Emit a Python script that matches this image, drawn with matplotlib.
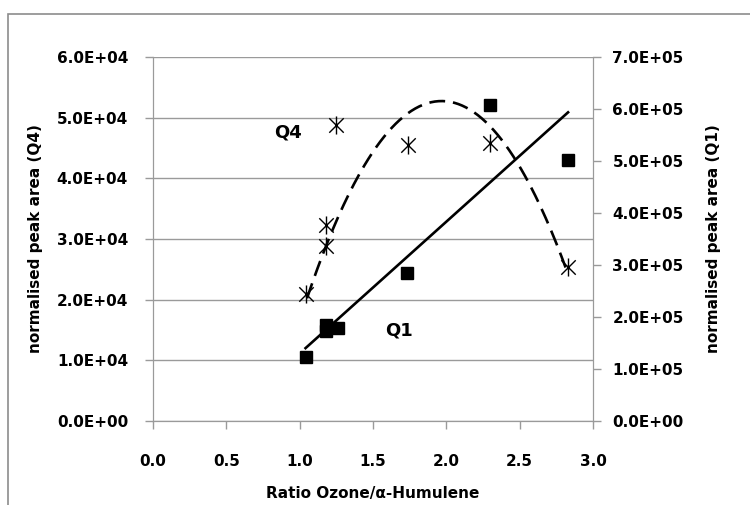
import numpy as np
import matplotlib
matplotlib.use("Agg")
import matplotlib.pyplot as plt
from matplotlib.patches import Rectangle
from matplotlib.path import Path

plt.rcParams['font.family'] = ['DejaVu Sans']
plt.rcParams['font.weight'] = 'bold'

# data
ratio = [1.04, 1.18, 1.18, 1.25, 1.74, 2.30, 2.83]
q4_area = [2.10e4, 3.23e4, 2.89e4, 4.88e4, 4.55e4, 4.58e4, 2.54e4]
ratio_q1 = [1.04, 1.18, 1.18, 1.26, 1.73, 2.30, 2.83]
q1_area = [1.23e5, 1.85e5, 1.73e5, 1.79e5, 2.85e5, 6.08e5, 5.02e5]

# Q4 trend line as drawn in the original
trend_x = [1.05, 1.10, 1.15, 1.24, 1.31, 1.39, 1.43, 1.49, 1.60, 1.68, 1.83,
           1.94, 2.08, 2.17, 2.32, 2.48, 2.55, 2.62, 2.72, 2.77, 2.82]
trend_y = [2.03e4, 2.38e4, 2.69e4, 3.23e4, 3.60e4, 3.98e4, 4.17e4, 4.42e4,
           4.77e4, 4.97e4, 5.21e4, 5.26e4, 5.21e4, 5.10e4, 4.80e4, 4.31e4,
           3.98e4, 3.65e4, 3.07e4, 2.82e4, 2.49e4]

left_ticks = [0, 1e4, 2e4, 3e4, 4e4, 5e4, 6e4]
right_ticks = [0, 1e5, 2e5, 3e5, 4e5, 5e5, 6e5, 7e5]
x_ticks = [0.0, 0.5, 1.0, 1.5, 2.0, 2.5, 3.0]

grey = '#9a9a9a'

# excel style star: an x with a vertical bar through it
star = Path([(0, -1), (0, 1), (-0.8, -0.8), (0.8, 0.8), (-0.8, 0.8), (0.8, -0.8)],
            [Path.MOVETO, Path.LINETO] * 3)

fig = plt.figure(figsize=(7.5, 5.05), dpi=100)
# chart border (cut off on right and bottom)
fig.patches.append(Rectangle((8 / 750, -0.1), 1.2, 1 - 14 / 505 + 0.1,
                             transform=fig.transFigure, fill=False,
                             edgecolor='#8c8c8c', lw=1.2))

ax = fig.add_axes([153 / 750, 1 - 421 / 505, 440 / 750, 364 / 505])
ax2 = ax.twinx()

# Q4 polynomial trend line, smoothed from the read points
xs = np.linspace(trend_x[0], trend_x[-1], 200)
c4 = np.polyfit(trend_x, trend_y, 4)
ax.plot(xs, np.polyval(c4, xs), color='black', lw=1.9, ls=(0, (6, 3)), zorder=3)
ax.plot(ratio, q4_area, ls='none', marker=star, ms=13, mew=1.0,
        color='black', zorder=4)

# Q1 with linear trend line
c1 = np.polyfit(ratio_q1, q1_area, 1)
xl = np.array([min(ratio_q1), max(ratio_q1)])
ax2.plot(xl, np.polyval(c1, xl), color='black', lw=1.9, zorder=3)
ax2.plot(ratio_q1, q1_area, ls='none', marker='s', ms=8.5, color='black', zorder=4)

ax.set_xlim(0, 3)
ax.set_ylim(0, 6e4)
ax2.set_ylim(0, 7e5)
ax.set_xticks(x_ticks)
ax.set_xticklabels(['%.1f' % v for v in x_ticks])
ax.set_yticks(left_ticks)
ax.set_yticklabels(['%.1E' % v for v in left_ticks])
ax2.set_yticks(right_ticks)
ax2.set_yticklabels(['%.1E' % v for v in right_ticks])

ax.grid(axis='y', color=grey, lw=1)
ax.set_axisbelow(True)
for a in (ax, ax2):
    for s in a.spines.values():
        s.set_color(grey)
    a.spines['top'].set_visible(False)
ax.tick_params(axis='y', length=6, width=1, color=grey, pad=12, labelsize=11)
ax.tick_params(axis='x', length=6, width=1, color=grey, pad=18, labelsize=11)
ax2.tick_params(axis='y', length=6, width=1, color=grey, pad=8, labelsize=11)

ax.set_ylabel('normalised peak area (Q4)', fontsize=11, fontweight='bold', labelpad=10)
ax2.set_ylabel('normalised peak area (Q1)', fontsize=11, fontweight='bold', labelpad=16)
ax.set_xlabel('Ratio Ozone/\u03b1-Humulene', fontsize=11, fontweight='bold', labelpad=12)

ax.text(0.92, 4.75e4, 'Q4', fontsize=13, fontweight='bold', ha='center', va='center')
ax.text(1.68, 1.5e4, 'Q1', fontsize=13, fontweight='bold', ha='center', va='center')

fig.savefig('out.png', dpi=100)
